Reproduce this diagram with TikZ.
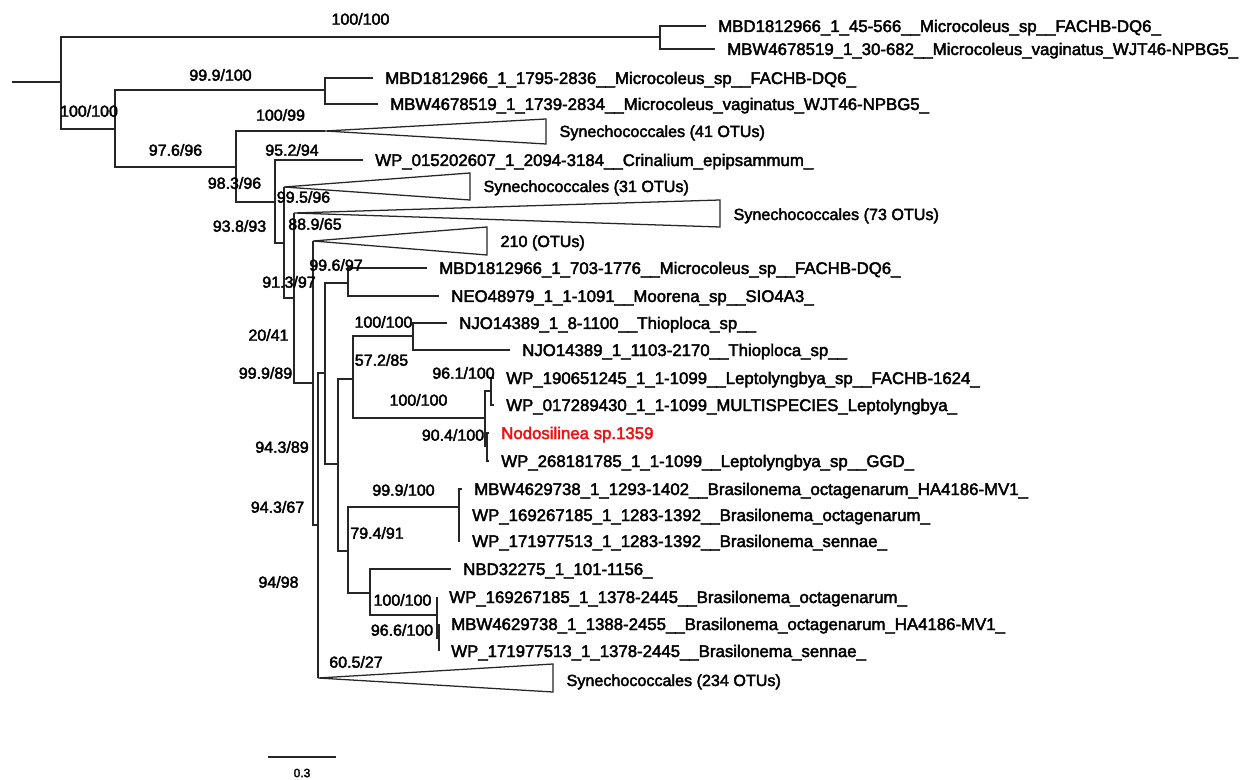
\documentclass[tikz,border=0pt]{standalone}
\usepackage{fontspec}
\setmainfont{Liberation Sans}[FakeBold=2.5]
\begin{document}
\begin{tikzpicture}[x=0.75pt,y=-0.75pt,
  edge/.style={draw=black!85, line width=0.95pt, line join=miter},
  clade/.style={draw=black!85, line width=0.95pt, line join=miter, fill=white},
  leaf/.style={anchor=west, inner xsep=9pt, inner ysep=0pt, text height=9pt,
    text depth=0pt, font=\fontsize{12.6}{14}\selectfont},
  cladename/.style={leaf, inner xsep=10pt, font=\fontsize{12.1}{14}\selectfont},
  focal/.style={leaf, text={rgb,255:red,240;green,16;blue,16}},
  support/.style={inner sep=0pt, text height=8.6pt, text depth=0pt,
    font=\fontsize{12}{14}\selectfont},
  scaletext/.style={inner sep=0pt, font=\fontsize{9}{10}\selectfont}]

% canvas
\fill[white] (0,0) rectangle (1252,780);
\useasboundingbox (0,0) rectangle (1252,780);

% internal nodes (x = node depth, y = attachment of the parent branch)
\coordinate (root) at (12,82);
\coordinate (nA) at (61,82);
\coordinate (nB) at (660,37);
\coordinate (nC) at (115,129);
\coordinate (nD) at (325,90);
\coordinate (nE) at (236,167);
\coordinate (nF) at (275,202);
\coordinate (nG) at (284,243);
\coordinate (nH) at (294,298);
\coordinate (nI) at (313,383);
\coordinate (nJ) at (318,525);
\coordinate (nL) at (325,373);
\coordinate (nK) at (348,283);
\coordinate (nM) at (338,464);
\coordinate (nN) at (353,379);
\coordinate (nQ) at (413,336);
\coordinate (nR) at (485,418);
\coordinate (nS) at (491,391);
\coordinate (nT) at (487,446);
\coordinate (nP) at (348,551);
\coordinate (nU) at (459,507);
\coordinate (nV) at (370,593);
\coordinate (nW) at (437,615);
\coordinate (nX) at (439,638);

% apices of the collapsed clades
\coordinate (a41) at (325,131);
\coordinate (a31) at (284,187);
\coordinate (a73) at (294,213);
\coordinate (a210) at (313,241);
\coordinate (a234) at (318,678);

% leaves
\node[leaf] (L1) at (706,26) {MBD1812966\_1\_45-566\_\_Microcoleus\_sp\_\_FACHB-DQ6\_};
\node[leaf] (L2) at (715,49) {MBW4678519\_1\_30-682\_\_Microcoleus\_vaginatus\_WJT46-NPBG5\_};
\node[leaf] (L3) at (373,78) {MBD1812966\_1\_1795-2836\_\_Microcoleus\_sp\_\_FACHB-DQ6\_};
\node[leaf] (L4) at (378,104) {MBW4678519\_1\_1739-2834\_\_Microcoleus\_vaginatus\_WJT46-NPBG5\_};
\node[leaf] (L6) at (363,160) {WP\_015202607\_1\_2094-3184\_\_Crinalium\_epipsammum\_};
\node[leaf] (L10) at (427,268) {MBD1812966\_1\_703-1776\_\_Microcoleus\_sp\_\_FACHB-DQ6\_};
\node[leaf] (L11) at (439,296) {NEO48979\_1\_1-1091\_\_Moorena\_sp\_\_SIO4A3\_};
\node[leaf] (L12) at (447,323) {NJO14389\_1\_8-1100\_\_Thioploca\_sp\_\_};
\node[leaf] (L13) at (510,350) {NJO14389\_1\_1103-2170\_\_Thioploca\_sp\_\_};
\node[leaf] (L14) at (494,378) {WP\_190651245\_1\_1-1099\_\_Leptolyngbya\_sp\_\_FACHB-1624\_};
\node[leaf] (L15) at (494,405) {WP\_017289430\_1\_1-1099\_MULTISPECIES\_Leptolyngbya\_};
\node[focal] (L16) at (489,433) {Nodosilinea sp.1359};
\node[leaf] (L17) at (489,461) {WP\_268181785\_1\_1-1099\_\_Leptolyngbya\_sp\_\_GGD\_};
\node[leaf] (L18) at (462,489) {MBW4629738\_1\_1293-1402\_\_Brasilonema\_octagenarum\_HA4186-MV1\_};
\node[leaf] (L19) at (460,515) {WP\_169267185\_1\_1283-1392\_\_Brasilonema\_octagenarum\_};
\node[leaf] (L20) at (460,541) {WP\_171977513\_1\_1283-1392\_\_Brasilonema\_sennae\_};
\node[leaf] (L21) at (451,569) {NBD32275\_1\_101-1156\_};
\node[leaf] (L22) at (437,597) {WP\_169267185\_1\_1378-2445\_\_Brasilonema\_octagenarum\_};
\node[leaf] (L23) at (439,624) {MBW4629738\_1\_1388-2455\_\_Brasilonema\_octagenarum\_HA4186-MV1\_};
\node[leaf] (L24) at (439,651) {WP\_171977513\_1\_1378-2445\_\_Brasilonema\_sennae\_};

% collapsed clades
\draw[clade] (a41) -- (546,119) -- (546,144) -- cycle;
\draw[clade] (a31) -- (470,173) -- (470,200) -- cycle;
\draw[clade] (a73) -- (720,200) -- (720,227) -- cycle;
\draw[clade] (a210) -- (487,227) -- (487,255) -- cycle;
\draw[clade] (a234) -- (553,664) -- (553,692) -- cycle;
\node[cladename] (C41) at (546,131) {Synechococcales (41 OTUs)};
\node[cladename] (C31) at (470,186) {Synechococcales (31 OTUs)};
\node[cladename] (C73) at (720,214) {Synechococcales (73 OTUs)};
\node[cladename] (C210) at (487,241) {210 (OTUs)};
\node[cladename] (C234) at (553,680) {Synechococcales (234 OTUs)};

% branches
\draw[edge] (root) -- (nA);
\draw[edge] (nA) |- (nB);
\draw[edge] (nA) |- (nC);
\draw[edge] (nB) |- (L1.west);
\draw[edge] (nB) |- (L2.west);
\draw[edge] (nC) |- (nD);
\draw[edge] (nC) |- (nE);
\draw[edge] (nD) |- (L3.west);
\draw[edge] (nD) |- (L4.west);
\draw[edge] (nE) |- (a41);
\draw[edge] (nE) |- (nF);
\draw[edge] (nF) |- (L6.west);
\draw[edge] (nF) |- (nG);
\draw[edge] (nG) |- (a31);
\draw[edge] (nG) |- (nH);
\draw[edge] (nH) |- (a73);
\draw[edge] (nH) |- (nI);
\draw[edge] (nI) |- (a210);
\draw[edge] (nI) |- (nJ);
\draw[edge] (nJ) |- (nL);
\draw[edge] (nJ) |- (a234);
\draw[edge] (nL) |- (nK);
\draw[edge] (nL) |- (nM);
\draw[edge] (nK) |- (L10.west);
\draw[edge] (nK) |- (L11.west);
\draw[edge] (nM) |- (nN);
\draw[edge] (nM) |- (nP);
\draw[edge] (nN) |- (nQ);
\draw[edge] (nN) |- (nR);
\draw[edge] (nQ) |- (L12.west);
\draw[edge] (nQ) |- (L13.west);
\draw[edge] (nR) |- (nS);
\draw[edge] (nR) |- (nT);
\draw[edge] (nS) |- (L14.west);
\draw[edge] (nS) |- (L15.west);
\draw[edge] (nT) |- (L16.west);
\draw[edge] (nT) |- (L17.west);
\draw[edge] (nP) |- (nU);
\draw[edge] (nP) |- (nV);
\draw[edge] (nU) |- (L18.west);
\draw[edge] (nU) |- (L19.west);
\draw[edge] (nU) |- (L20.west);
\draw[edge] (nV) |- (L21.west);
\draw[edge] (nV) |- (nW);
\draw[edge] (nW) |- (L22.west);
\draw[edge] (nW) |- (nX);
\draw[edge] (nX) |- (L23.west);
\draw[edge] (nX) |- (L24.west);

% support values (SH-aLRT / UFBoot)
\node[support] (s1) at (360.5,19) {100/100};
\node[support] (s2) at (89,111) {100/100};
\node[support] (s3) at (220.5,75) {99.9/100};
\node[support] (s4) at (280.5,115) {100/99};
\node[support] (s5) at (175.5,150) {97.6/96};
\node[support] (s6) at (292,150) {95.2/94};
\node[support] (s7) at (234.5,183) {98.3/96};
\node[support] (s8) at (303.5,197) {99.5/96};
\node[support] (s9) at (239.5,226) {93.8/93};
\node[support] (s10) at (315,224) {88.9/65};
\node[support] (s11) at (336,265) {99.6/97};
\node[support] (s12) at (289,282) {91.3/97};
\node[support] (s13) at (383.5,322) {100/100};
\node[support] (s14) at (268.5,335) {20/41};
\node[support] (s15) at (381.5,360) {57.2/85};
\node[support] (s16) at (265.5,373) {99.9/89};
\node[support] (s17) at (463.5,373) {96.1/100};
\node[support] (s18) at (418.5,400) {100/100};
\node[support] (s19) at (453,435) {90.4/100};
\node[support] (s20) at (282,447) {94.3/89};
\node[support] (s21) at (403.5,490) {99.9/100};
\node[support] (s22) at (277.5,507) {94.3/67};
\node[support] (s23) at (377,533) {79.4/91};
\node[support] (s24) at (278.5,582) {94/98};
\node[support] (s25) at (402.5,600) {100/100};
\node[support] (s26) at (402,630) {96.6/100};
\node[support] (s27) at (356,662) {60.5/27};

% scale bar
\coordinate (sb0) at (268,757);
\coordinate (sb1) at (336,757);
\draw[edge] (sb0) -- (sb1);
\node[scaletext] (sbl) at (302,773) {0.3};
\end{tikzpicture}
\end{document}
